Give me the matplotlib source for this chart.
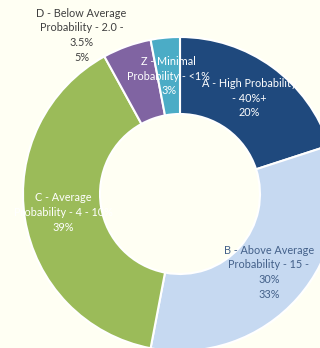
import numpy as np
import matplotlib.pyplot as plt

# probability bands, clockwise from 12 o'clock
names = ["A - High Probability\n- 40%+",
         "B - Above Average\nProbability - 15 -\n30%",
         "C - Average\nProbability - 4 - 10%",
         "D - Below Average\nProbability - 2.0 -\n3.5%",
         "Z - Minimal\nProbability - <1%"]
shares = [20, 33, 39, 5, 3]
colours = ["#1F497D", "#C6D9F1", "#9BBB59", "#8064A2", "#4BACC6"]
text_colours = ["#FFFFFF", "#44618A", "#FFFFFF", "#404040", "#FFFFFF"]

bg = "#FFFFF3"
plt.rcParams['font.family'] = ['Lato', 'DejaVu Sans']

fig = plt.figure(figsize=(3.2, 3.48), dpi=100, facecolor=bg)
# ring runs off the right and bottom edges
ax = fig.add_axes([23 / 320, -3 / 348, 314 / 320, 314 / 348])
ax.set_facecolor(bg)

ring = 1 - 80 / 157
wedges, _ = ax.pie(shares, colors=colours, startangle=90, counterclock=False,
                   radius=1, wedgeprops=dict(width=ring, edgecolor="white", linewidth=1.5))
ax.set_xlim(-1, 1)
ax.set_ylim(-1, 1)
ax.set_aspect("equal")
ax.axis("off")

mid = 1 - ring / 2
for w, name, pct, tc in zip(wedges, names, shares, text_colours):
    ang = np.deg2rad((w.theta1 + w.theta2) / 2)
    r = mid
    if name.startswith("D"):
        # this one sits outside the ring
        ang = np.deg2rad((w.theta1 + w.theta2) / 2 + 12)
        r = 1.19
    ax.text(r * np.cos(ang), r * np.sin(ang), f"{name}\n{pct}%",
            ha="center", va="center", color=tc, fontsize=7.8, linespacing=1.42)

fig.savefig("out.png", dpi=100, facecolor=bg)
